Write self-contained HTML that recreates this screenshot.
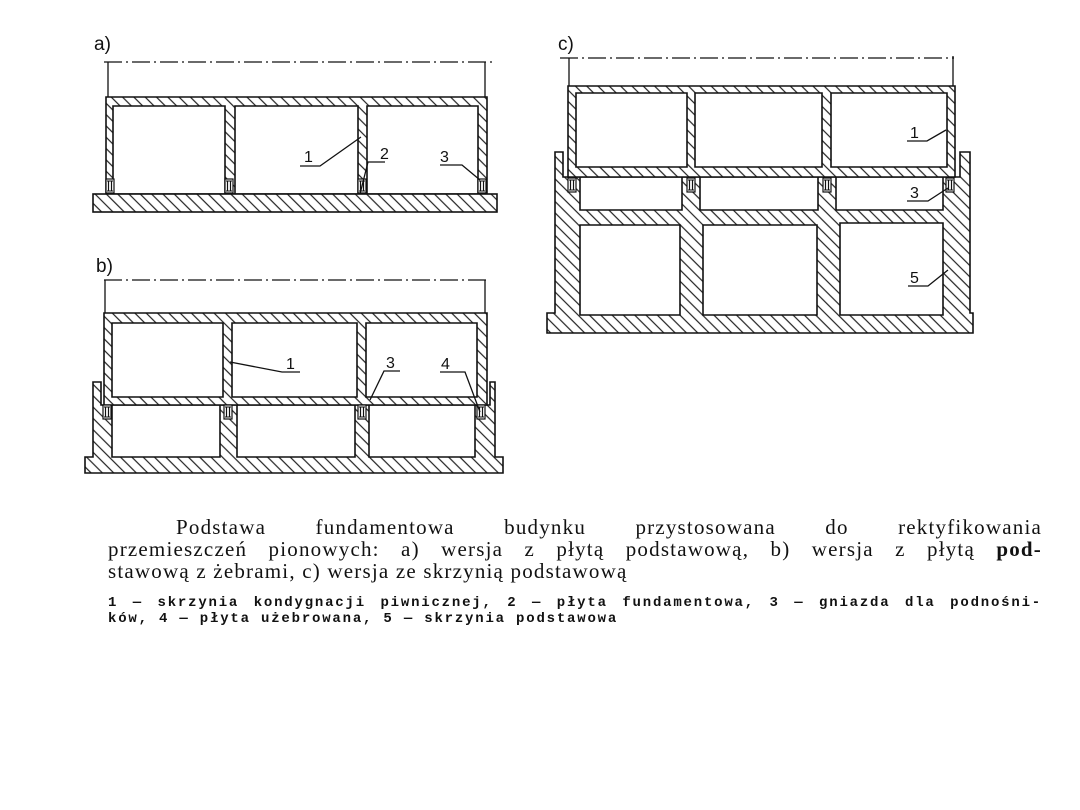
<!DOCTYPE html>
<html><head><meta charset="utf-8"><style>
html,body{margin:0;padding:0;background:#fff;}
body{width:1080px;height:810px;position:relative;overflow:hidden;}
svg{position:absolute;left:0;top:0;}
.cap{position:absolute;font-family:"Liberation Serif",serif;color:#111;white-space:nowrap;}
.j{text-align:justify;text-align-last:justify;white-space:normal;}
.big{font-size:21px;letter-spacing:1.2px;line-height:22px;}
.sm{font-size:14px;font-weight:bold;font-family:'Liberation Mono',monospace;letter-spacing:1.8px;line-height:16px;}
</style></head><body>
<svg width="1080" height="810" viewBox="0 0 1080 810">
<defs>
<pattern id="h" width="8" height="8" patternUnits="userSpaceOnUse" patternTransform="rotate(-45)">
<rect width="8" height="8" fill="#fff"/><line x1="2" y1="0" x2="2" y2="8" stroke="#222" stroke-width="1.2"/>
</pattern>
<g id="jack"><rect x="-4" y="0" width="8" height="14" fill="#fff" stroke="#111" stroke-width="1.2"/><line x1="-1.5" y1="2" x2="-1.5" y2="12" stroke="#111" stroke-width="1.2"/><line x1="1.5" y1="2" x2="1.5" y2="12" stroke="#111" stroke-width="1.2"/><line x1="-3" y1="2" x2="3" y2="2" stroke="#111"/><line x1="-3" y1="12" x2="3" y2="12" stroke="#111"/></g>
</defs>
<g stroke="#111" stroke-width="1.6" fill="url(#h)" fill-rule="evenodd">
<path d="M106 97H487V194H106Z M113 106H225V194H113Z M235 106H358V194H235Z M367 106H478V194H367Z"/>
<rect x="93" y="194" width="404" height="18"/>
<path d="M93 382H101V405H490V382H495V457H503V473H85V457H93Z M112 405H220V457H112Z M237 405H355V457H237Z M369 405H475V457H369Z"/>
<path d="M104 313H487V405H104Z M112 323H223V397H112Z M232 323H357V397H232Z M366 323H477V397H366Z"/>
<path d="M555 152H563V177H960V152H970V313H973V333H547V313H555Z M580 177H682V210H580Z M700 177H818V210H700Z M836 177H943V210H836Z M580 225H680V315H580Z M703 225H817V315H703Z M840 223H943V315H840Z"/>
<path d="M568 86H955V177H568Z M576 93H687V167H576Z M695 93H822V167H695Z M831 93H947V167H831Z"/>
</g>
<use href="#jack" x="110" y="179"/><use href="#jack" x="229" y="179"/><use href="#jack" x="362" y="179"/><use href="#jack" x="482" y="179"/>
<use href="#jack" x="107" y="405"/><use href="#jack" x="228" y="405"/><use href="#jack" x="362" y="405"/><use href="#jack" x="481" y="405"/>
<use href="#jack" x="572" y="178"/><use href="#jack" x="691" y="178"/><use href="#jack" x="827" y="178"/><use href="#jack" x="950" y="178"/>
<g stroke="#111" stroke-width="1.3" fill="none">
<line x1="104" y1="62" x2="494" y2="62" stroke-dasharray="18,4,2,4"/>
<line x1="108" y1="62" x2="108" y2="97"/><line x1="485" y1="62" x2="485" y2="97"/>
<line x1="104" y1="280" x2="486" y2="280" stroke-dasharray="18,4,2,4"/>
<line x1="105" y1="280" x2="105" y2="313"/><line x1="485" y1="280" x2="485" y2="313"/>
<line x1="560" y1="58" x2="954" y2="58" stroke-dasharray="18,4,2,4"/>
<line x1="569" y1="58" x2="569" y2="86"/><line x1="953" y1="56" x2="953" y2="86"/>
<polyline points="300,166 320,166 361,137"/>
<polyline points="385,162 368,162 360,194"/>
<polyline points="440,165 462,165 480,180"/>
<polyline points="300,372 282,372 230,362"/>
<polyline points="400,371 384,371 370,400"/>
<polyline points="440,372 465,372 480,412"/>
<polyline points="907,141 927,141 946,130"/>
<polyline points="907,201 928,201 948,188"/>
<polyline points="908,286 928,286 948,270"/>
</g>
<g font-family="Liberation Sans,sans-serif" font-size="16" fill="#111">
<text x="304" y="162">1</text><text x="380" y="159">2</text><text x="440" y="162">3</text>
<text x="286" y="369">1</text><text x="386" y="368">3</text><text x="441" y="369">4</text>
<text x="910" y="138">1</text><text x="910" y="198">3</text><text x="910" y="283">5</text>
<text x="94" y="50" font-size="19">a)</text>
<text x="96" y="272" font-size="19">b)</text>
<text x="558" y="50" font-size="19">c)</text>
</g>
</svg>
<div class="cap j big" style="left:176px;top:516px;width:866px;">Podstawa fundamentowa budynku przystosowana do rektyfikowania</div>
<div class="cap j big" style="left:108px;top:538px;width:934px;">przemieszczeń pionowych: a) wersja z płytą podstawową, b) wersja z płytą <b>pod-</b></div>
<div class="cap big" style="left:108px;top:560px;">stawową z żebrami, c) wersja ze skrzynią podstawową</div>
<div class="cap j sm" style="left:108px;top:595px;width:934px;">1 — skrzynia kondygnacji piwnicznej, 2 — płyta fundamentowa, 3 — gniazda dla podnośni-</div>
<div class="cap sm" style="left:108px;top:611px;">ków, 4 — płyta użebrowana, 5 — skrzynia podstawowa</div>
</body></html>
